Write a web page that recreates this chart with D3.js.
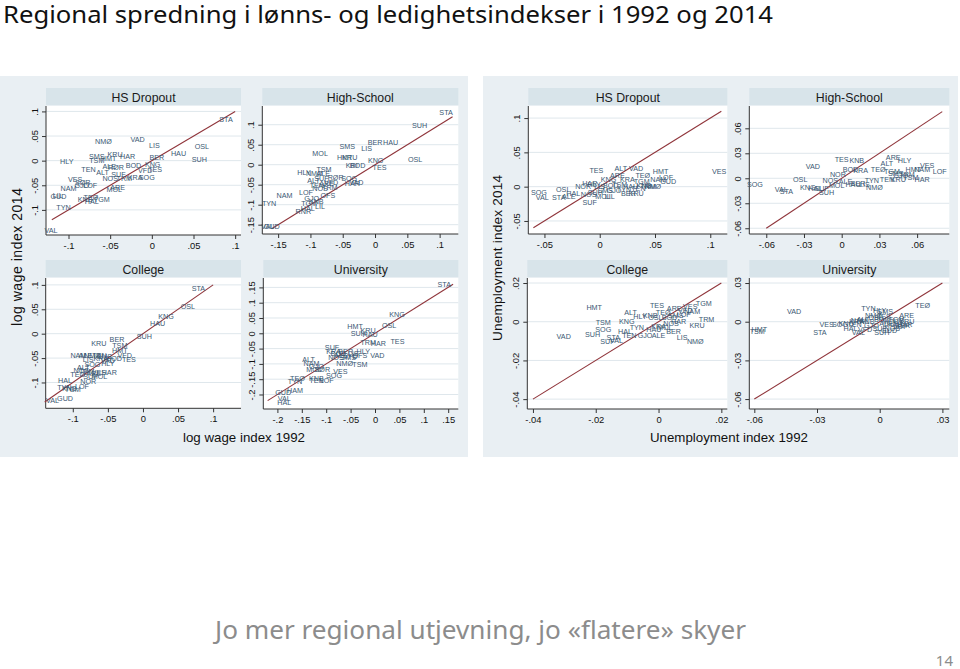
<!DOCTYPE html>
<html><head><meta charset="utf-8">
<script src="https://cdn.jsdelivr.net/npm/d3@7"></script>
<style>body{margin:0;background:#fff}svg{display:block}</style>
</head><body>
<svg id="c" width="960" height="669"></svg>
<script>
// ---------------- DATA ----------------
// Wage panels (log wage index 1992 -> 2014)
const wHSD_lab = ["STA","OSL","SUH","HAU","LIS","BER","VAD","NMØ","HLY","KNG","TES","VFD","BOD","SOG","KRA","TRM","NOS","SUF","ALT","ALE","RØR","TEN","SMS","KRU","HAR","TSM","HMT","VES","SØR","NAM","GJO","LOF","ARE","MOL","GUD","LIL","TYN","KNB","HAL","TGM","TEØ","VAL"];
const wHSD_x = [0.089,0.060,0.057,0.032,0.003,0.006,-0.017,-0.058,-0.102,0.001,0.004,-0.008,-0.022,-0.006,-0.020,-0.033,-0.050,-0.040,-0.059,-0.051,-0.043,-0.076,-0.066,-0.044,-0.029,-0.066,-0.052,-0.092,-0.083,-0.100,-0.084,-0.074,-0.041,-0.045,-0.112,-0.113,-0.106,-0.080,-0.072,-0.060,-0.073,-0.121];
const wHSD_y = [0.084,0.028,0.003,0.014,0.031,0.007,0.043,0.038,-0.002,-0.007,-0.018,-0.020,-0.009,-0.035,-0.034,-0.037,-0.037,-0.029,-0.024,-0.011,-0.014,-0.018,0.008,0.013,0.009,0.001,0.005,-0.039,-0.045,-0.056,-0.051,-0.051,-0.054,-0.058,-0.073,-0.071,-0.095,-0.078,-0.082,-0.078,-0.074,-0.141];

const wHS_lab = ["STA","SUH","OSL","HAU","BER","LIS","SMS","MOL","HMT","KRU","KNG","TES","KRI","BOD","HLY","TSM","NMØ","ALE","RØR","SOG","VAD","HAR","ALT","SUF","ARE","TEN","VFD","NOS","TRM","LOF","OFS","GJO","KNB","LIL","TGM","RNR","HAL","NAM","TYN","GUD","VAL"];
const wHS_x = [0.110,0.069,0.062,0.024,0.000,-0.013,-0.043,-0.085,-0.047,-0.039,0.001,0.007,-0.036,-0.027,-0.110,-0.079,-0.094,-0.080,-0.061,-0.040,-0.029,-0.035,-0.095,-0.083,-0.075,-0.090,-0.068,-0.085,-0.070,-0.107,-0.073,-0.098,-0.091,-0.085,-0.102,-0.111,-0.104,-0.140,-0.164,-0.160,-0.166];
const wHS_y = [0.131,0.097,0.013,0.055,0.055,0.041,0.045,0.027,0.018,0.018,0.010,-0.007,-0.003,-0.003,-0.020,-0.012,-0.023,-0.022,-0.033,-0.035,-0.044,-0.046,-0.040,-0.035,-0.047,-0.052,-0.045,-0.060,-0.058,-0.069,-0.076,-0.084,-0.093,-0.105,-0.098,-0.116,-0.110,-0.078,-0.097,-0.155,-0.155];

const wCol_lab = ["STA","OSL","KNG","HAU","SUH","BER","TSM","HMT","KRU","VFD","TES","BOD","NAM","ALE","NMØ","TEN","SMS","KRA","LIS","VAD","HLY","SOG","HAR","ALT","TRM","NOS","TEØ","ARE","VES","SUF","MOL","HAL","NOR","TYN","LOF","TGM","KNB","GUD","VAL"];
const wCol_x = [0.079,0.064,0.033,0.021,0.002,-0.037,-0.033,-0.033,-0.063,-0.026,-0.020,-0.041,-0.092,-0.082,-0.072,-0.062,-0.055,-0.060,-0.078,-0.050,-0.050,-0.072,-0.048,-0.085,-0.080,-0.088,-0.093,-0.070,-0.063,-0.075,-0.062,-0.111,-0.078,-0.112,-0.087,-0.100,-0.105,-0.111,-0.129];
const wCol_y = [0.093,0.055,0.035,0.021,-0.006,-0.012,-0.024,-0.035,-0.020,-0.044,-0.052,-0.050,-0.045,-0.045,-0.045,-0.045,-0.047,-0.050,-0.052,-0.055,-0.062,-0.063,-0.079,-0.070,-0.077,-0.075,-0.084,-0.082,-0.080,-0.088,-0.088,-0.095,-0.097,-0.110,-0.108,-0.115,-0.112,-0.133,-0.137];

const wUni_lab = ["STA","KNG","OSL","TES","HMT","SUH","KRU","HAU","TRM","HAR","VAD","SUF","HLY","OFS","TSM","NMØ","BER","BOD","LIS","KRA","ALE","SMS","NOS","VFD","ALT","NAM","GJO","SØR","MOL","VES","SOG","KNB","LOF","TEN","TEØ","TYN","HAM","GUD","VAL","HAL"];
const wUni_x = [0.142,0.045,0.029,0.046,-0.041,-0.034,-0.014,-0.010,-0.014,0.007,0.005,-0.088,-0.024,-0.031,-0.031,-0.062,-0.060,-0.075,-0.045,-0.085,-0.070,-0.055,-0.080,-0.050,-0.136,-0.130,-0.120,-0.108,-0.125,-0.071,-0.084,-0.120,-0.099,-0.120,-0.159,-0.164,-0.164,-0.188,-0.186,-0.186];
const wUni_y = [0.158,0.060,0.024,-0.027,0.022,0.000,0.008,-0.005,-0.029,-0.034,-0.073,-0.047,-0.060,-0.074,-0.103,-0.100,-0.058,-0.065,-0.065,-0.060,-0.072,-0.080,-0.080,-0.075,-0.087,-0.100,-0.110,-0.117,-0.118,-0.125,-0.139,-0.147,-0.154,-0.155,-0.149,-0.158,-0.188,-0.192,-0.214,-0.225];

// Unemployment panels (unemployment index 1992 -> 2014)
const uHSD_lab = ["VES","TES","ALT","VAD","ARE","TEØ","HMT","NAM","GUD","LOF","KNG","KRA","TGM","HAR","NOR","OSL","SOG","VAL","STA","ALE","HAL","SUF","MOL","LIL","BER","KRU","NMØ","LIS","BOD","TSM","HAU","SMS","SUH","GJO","TYN","KNB","TRM","HLY","NOS","TEN"];
const uHSD_x = [0.108,-0.003,0.019,0.033,0.016,0.039,0.055,0.053,0.062,0.060,0.008,0.025,0.038,-0.009,-0.015,-0.033,-0.055,-0.052,-0.037,-0.028,-0.024,-0.009,0.003,0.009,0.026,0.033,0.048,0.000,0.010,0.018,0.028,0.005,-0.004,0.013,0.022,0.040,0.044,-0.005,-0.010,0.035];
const uHSD_y = [0.022,0.024,0.027,0.027,0.017,0.017,0.022,0.011,0.008,0.013,0.011,0.011,0.007,0.005,0.000,-0.004,-0.008,-0.016,-0.016,-0.015,-0.010,-0.023,-0.014,-0.014,-0.010,-0.010,0.000,0.000,0.002,0.003,0.001,-0.005,-0.008,-0.006,-0.004,0.002,0.000,0.003,-0.012,-0.003];

const uHS_lab = ["VAD","TES","KNB","ARE","HLY","ALT","VES","HMT","NAM","LOF","HAR","TEØ","BOD","KRA","NOR","TGM","TEN","KRU","OSL","SOG","VAL","STA","KNG","HAL","SUH","NOS","NMØ","TYN","BER","HAU","ALE","MOL","LIS","SUF","GJO","SMS","TRM","TSM"];
const uHS_x = [-0.023,0.000,0.012,0.041,0.050,0.036,0.068,0.057,0.064,0.078,0.064,0.029,0.007,0.015,-0.003,0.040,0.036,0.045,-0.033,-0.069,-0.048,-0.044,-0.027,-0.021,-0.012,-0.009,0.026,0.024,0.013,0.009,0.003,-0.004,0.018,-0.016,0.047,0.043,0.052,0.055];
const uHS_y = [0.014,0.022,0.021,0.025,0.021,0.018,0.015,0.011,0.010,0.008,-0.001,0.011,0.010,0.009,0.005,0.008,-0.002,-0.001,-0.001,-0.008,-0.013,-0.016,-0.011,-0.012,-0.017,-0.003,-0.011,-0.003,-0.006,-0.007,-0.004,-0.009,-0.008,-0.012,0.003,0.006,0.004,0.001];

const uCol_lab = ["VAD","HMT","TSM","SOG","SUH","STA","SUF","VAL","ALT","KNG","HAL","TYN","TEN","GJO","ALE","HLY","KNB","TES","ARE","VES","TGM","NAM","TRM","KRU","LIS","NMØ","BER","HAR","OSL","TEØ","BOD","SMS","KRA","MOL","NOS","HAU","LOF","VFD"];
const uCol_x = [-0.0302,-0.0205,-0.0176,-0.0176,-0.0210,-0.0144,-0.0163,-0.0134,-0.0089,-0.0101,-0.0107,-0.0069,-0.0093,-0.0043,0.0000,-0.0059,-0.0027,-0.0005,0.0050,0.0101,0.0144,0.0107,0.0153,0.0123,0.0075,0.0117,0.0048,0.0064,-0.0010,0.0015,0.0035,0.0055,0.0000,0.0020,0.0040,-0.0015,0.0080,0.0085];
const uCol_y = [-0.0077,0.0072,-0.0003,-0.0038,-0.0065,-0.0082,-0.0100,-0.0096,0.0048,0.0000,-0.0048,-0.0031,-0.0072,-0.0069,-0.0069,0.0026,0.0034,0.0086,0.0069,0.0077,0.0094,0.0055,0.0014,-0.0021,-0.0082,-0.0100,-0.0048,0.0000,0.0020,0.0050,0.0020,0.0030,-0.0025,-0.0030,-0.0010,-0.0040,0.0040,0.0060];

const uUni_lab = ["TEØ","VAD","TYN","SMS","HLY","ARE","VES","STA","HMT","TSM","SUH","VAL","SOG","KNG","HAL","TEN","NAM","ALT","KNB","GJO","OSL","BOD","ALE","MOL","HAU","LIS","BER","KRU","NOS","GUD","LOF","HAR","NMØ","TES","VFD","SUF","TGM","KRA"];
const uUni_x = [0.0206,-0.0410,-0.0054,0.0026,0.0000,0.0129,-0.0254,-0.0286,-0.0576,-0.0586,0.0010,-0.0102,-0.0190,-0.0160,-0.0140,-0.0120,-0.0100,-0.0080,-0.0060,-0.0040,-0.0020,0.0010,0.0030,0.0050,0.0070,0.0090,0.0110,0.0130,0.0060,0.0045,0.0100,0.0120,-0.0030,0.0020,-0.0070,0.0000,0.0080,-0.0110];
const uUni_y = [0.0124,0.0077,0.0103,0.0077,0.0090,0.0052,-0.0018,-0.0082,-0.0057,-0.0077,-0.0082,-0.0082,-0.0025,-0.0010,-0.0050,-0.0020,0.0010,0.0020,0.0000,-0.0030,0.0030,0.0020,-0.0010,0.0000,-0.0020,0.0010,-0.0030,0.0000,-0.0050,-0.0070,-0.0040,-0.0020,0.0050,0.0040,-0.0060,-0.0050,0.0020,0.0000];

// Tick values
const ticksW10 = [-0.1,-0.05,0,0.05,0.1];
const ticksW15 = [-0.15,-0.1,-0.05,0,0.05,0.1];
const ticksW20 = [-0.2,-0.15,-0.1,-0.05,0,0.05,0.1,0.15];
const ticksU05x = [-0.05,0,0.05,0.1];
const ticksU05y = [-0.05,0,0.05,0.1];
const ticksU06 = [-0.06,-0.03,0,0.03,0.06];
const ticksU04 = [-0.04,-0.02,0,0.02];
const ticksU03 = [-0.06,-0.03,0,0.03];
// 45-degree reference line extents
const lineW = [[-0.12,0.10],[-0.16,0.12],[-0.14,0.10],[-0.22,0.16]];
const lineU = [[-0.06,0.11],[-0.06,0.08],[-0.04,0.02],[-0.06,0.03]];

// ---------------- LAYOUT ----------------
const svg = d3.select("#c");
const LABC = "#3a5873", RED = "#90353b", BG = "#e9eff3", STRIP = "#d8e4ea", GRID = "#dfe7ec";
const FONT = "'Liberation Sans', Arial, sans-serif";

svg.append("rect").attr("x",0).attr("y",76).attr("width",468).attr("height",381).attr("fill",BG);
svg.append("rect").attr("x",483).attr("y",76).attr("width",475).attr("height",381).attr("fill",BG);

const fmt = v => { if (Math.abs(v) < 1e-9) return "0"; let s = String(+v.toFixed(3)); return s.replace(/^(-?)0\./, "$1."); };

const panels = [
 {lab:wHSD_lab,xs:wHSD_x,ys:wHSD_y,title:"HS Dropout",px:[46,241],py:[106,235],xd:[-0.127,0.107],yd:[-0.151,0.111],xt:ticksW10,yt:ticksW10,ln:lineW[0]},
 {lab:wHS_lab,xs:wHS_x,ys:wHS_y,title:"High-School",px:[262.3,458.3],py:[106,234],xd:[-0.1745,0.1289],yd:[-0.1733,0.1468],xt:ticksW15,yt:ticksW15,ln:lineW[1]},
 {lab:wCol_lab,xs:wCol_x,ys:wCol_y,title:"College",px:[45.7,241],py:[278,408.3],xd:[-0.1386,0.1397],yd:[-0.1529,0.1141],xt:ticksW10,yt:ticksW10,ln:lineW[2]},
 {lab:wUni_lab,xs:wUni_x,ys:wUni_y,title:"University",px:[263.3,458.3],py:[278,409],xd:[-0.2289,0.1707],yd:[-0.2474,0.1807],xt:ticksW20,yt:ticksW20,ln:lineW[3]},
 {lab:uHSD_lab,xs:uHSD_x,ys:uHSD_y,title:"HS Dropout",px:[528.3,727.3],py:[106,234],xd:[-0.0646,0.1154],yd:[-0.0690,0.1176],xt:ticksU05x,yt:ticksU05y,ln:lineU[0]},
 {lab:uHS_lab,xs:uHS_x,ys:uHS_y,title:"High-School",px:[749.3,949.3],py:[106,234],xd:[-0.0735,0.0856],yd:[-0.0669,0.0868],xt:ticksU06,yt:ticksU06,ln:lineU[1]},
 {lab:uCol_lab,xs:uCol_x,ys:uCol_y,title:"College",px:[527.3,727.3],py:[278,409],xd:[-0.0418,0.0219],yd:[-0.0451,0.0226],xt:ticksU04,yt:ticksU04,ln:lineU[2]},
 {lab:uUni_lab,xs:uUni_x,ys:uUni_y,title:"University",px:[749.3,949.3],py:[278,409],xd:[-0.0624,0.0333],yd:[-0.0677,0.0339],xt:ticksU03,yt:ticksU03,ln:lineU[3]}
];

panels.forEach(p => {
  const x = d3.scaleLinear().domain(p.xd).range(p.px);
  const y = d3.scaleLinear().domain(p.yd).range([p.py[1], p.py[0]]);
  const g = svg.append("g");
  g.append("rect").attr("x",p.px[0]).attr("y",p.py[0]-18).attr("width",p.px[1]-p.px[0]).attr("height",17).attr("fill",STRIP);
  g.append("text").attr("x",(p.px[0]+p.px[1])/2).attr("y",p.py[0]-4.5).attr("text-anchor","middle")
    .attr("font-family",FONT).attr("font-size",12.3).attr("fill","#1a1a1a").text(p.title);
  g.append("rect").attr("x",p.px[0]).attr("y",p.py[0]).attr("width",p.px[1]-p.px[0]).attr("height",p.py[1]-p.py[0]).attr("fill","#fff");
  g.selectAll(".grid").data(p.yt).join("line")
    .attr("x1",p.px[0]).attr("x2",p.px[1]).attr("y1",d=>y(d)).attr("y2",d=>y(d))
    .attr("stroke",GRID).attr("stroke-width",1);
  const xa = g.append("g").attr("transform",`translate(0,${p.py[1]})`)
    .call(d3.axisBottom(x).tickValues(p.xt).tickFormat(fmt).tickSize(4).tickSizeOuter(0).tickPadding(3));
  const ya = g.append("g").attr("transform",`translate(${p.px[0]},0)`)
    .call(d3.axisLeft(y).tickValues(p.yt).tickFormat(fmt).tickSize(4).tickSizeOuter(0));
  [xa,ya].forEach(a => {
    a.select(".domain").remove();
    a.selectAll(".tick line").attr("stroke","#333");
    a.selectAll("text").attr("font-family",FONT).attr("font-size",9.4).attr("fill","#111");
  });
  g.append("line").attr("x1",p.px[0]).attr("x2",p.px[1]).attr("y1",p.py[1]).attr("y2",p.py[1]).attr("stroke","#333");
  g.append("line").attr("x1",p.px[0]).attr("x2",p.px[0]).attr("y1",p.py[0]).attr("y2",p.py[1]).attr("stroke","#333");
  ya.selectAll(".tick text").attr("x",null).attr("dy",null).attr("text-anchor","middle")
    .attr("transform","translate(-8,0) rotate(-90)");
  g.append("line").attr("x1",x(p.ln[0])).attr("y1",y(p.ln[0])).attr("x2",x(p.ln[1])).attr("y2",y(p.ln[1]))
    .attr("stroke",RED).attr("stroke-width",1.1);
  g.selectAll(".lbl").data(p.lab.map((l,i)=>({l, vx:p.xs[i], vy:p.ys[i]}))).join("text")
    .attr("x",d=>x(d.vx)).attr("y",d=>y(d.vy)).attr("dy","0.35em").attr("text-anchor","middle")
    .attr("font-family",FONT).attr("font-size",7.2).attr("fill",LABC).text(d=>d.l);
});

svg.append("text").attr("x",244).attr("y",442).attr("text-anchor","middle").attr("font-family",FONT)
  .attr("font-size",13.3).attr("fill","#111").attr("textLength",122).text("log wage index 1992");
svg.append("text").attr("x",729).attr("y",442).attr("text-anchor","middle").attr("font-family",FONT)
  .attr("font-size",13.3).attr("fill","#111").attr("textLength",158).text("Unemployment index 1992");
svg.append("text").attr("transform","translate(22,257) rotate(-90)").attr("text-anchor","middle").attr("font-family",FONT)
  .attr("font-size",14).attr("fill","#111").attr("textLength",138).text("log wage index 2014");
svg.append("text").attr("transform","translate(502,258) rotate(-90)").attr("text-anchor","middle").attr("font-family",FONT)
  .attr("font-size",13.6).attr("fill","#111").attr("textLength",166).text("Unemployment index 2014");

svg.append("text").attr("x",3).attr("y",23).attr("font-family","'Noto Sans', 'Open Sans', sans-serif")
  .attr("font-size",23.5).attr("fill","#111").attr("textLength",770).attr("lengthAdjust","spacingAndGlyphs")
  .text("Regional spredning i lønns- og ledighetsindekser i 1992 og 2014");
svg.append("text").attr("x",215).attr("y",639).attr("font-family","'Noto Sans', 'Open Sans', sans-serif")
  .attr("font-size",25.5).attr("fill","#8c8c8c").attr("textLength",531).attr("lengthAdjust","spacingAndGlyphs")
  .text("Jo mer regional utjevning, jo «flatere» skyer");
svg.append("text").attr("x",953).attr("y",666).attr("text-anchor","end").attr("font-family","'Noto Sans', sans-serif")
  .attr("font-size",15).attr("fill","#8c8c8c").text("14");
</script>
</body></html>
